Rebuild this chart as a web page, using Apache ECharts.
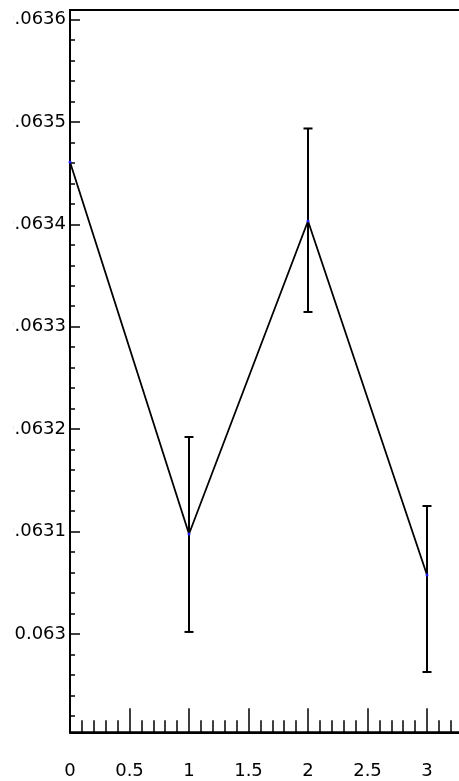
<!DOCTYPE html>
<html>
<head>
<meta charset="utf-8">
<script src="https://cdn.jsdelivr.net/npm/echarts@6/dist/echarts.min.js"></script>
<style>
  html, body { margin: 0; padding: 0; background: #ffffff; overflow: hidden; width: 459px; height: 781px; }
  #chart { width: 487px; height: 781px; }
</style>
</head>
<body>
<div id="chart"></div>
<script>
// Data
const xValues = [0, 1, 2, 3];
const yValues = [0.0634608, 0.0630976, 0.0634032, 0.0630575];
const errLow  = [null, 0.0630019, 0.0633144, 0.0629628];
const errHigh = [null, 0.0631923, 0.0634936, 0.0631249];

const xMin = 0, xMax = 3.5, xStep = 0.5;
const yMin = 0.0629039, yMax = 0.0636093, yStep = 0.0001;

const pointData = xValues.map((x, i) => [x, yValues[i]]);
const errData = xValues.map((x, i) => [x, errLow[i], errHigh[i]]).filter(d => d[1] !== null);

const FONT = 'DejaVu Sans';
const chart = echarts.init(document.getElementById('chart'), null, { renderer: 'canvas' });

chart.setOption({
  animation: false,
  backgroundColor: '#ffffff',
  grid: {
    left: 70, top: 10, right: 0.5, bottom: 48.7,
    show: true, borderColor: '#000', borderWidth: 2, backgroundColor: 'transparent',
    containLabel: false
  },
  // the reference clips its tick labels a little inside the left edge
  graphic: [{
    type: 'rect', left: 0, top: 0, z: 100, silent: true,
    shape: { width: 13.6, height: 781 },
    style: { fill: '#ffffff' }
  }],
  xAxis: {
    type: 'value',
    min: xMin, max: xMax, interval: xStep,
    axisLine: { show: true, lineStyle: { color: '#000', width: 2 } },
    axisTick: { show: true, inside: true, length: 24, lineStyle: { color: '#000', width: 1.5 } },
    minorTick: { show: true, splitNumber: 5, length: 12, lineStyle: { color: '#000', width: 1.5 } },
    axisLabel: { show: true, margin: 30, color: '#000', fontFamily: FONT, fontSize: 18, showMaxLabel: false },
    splitLine: { show: false },
    minorSplitLine: { show: false }
  },
  yAxis: {
    type: 'value',
    min: yMin, max: yMax,
    minInterval: yStep, maxInterval: yStep, splitNumber: 7,
    axisLine: { show: true, lineStyle: { color: '#000', width: 2 } },
    axisTick: { show: true, inside: true, length: 10, lineStyle: { color: '#000', width: 1.5 } },
    minorTick: { show: true, splitNumber: 5, length: 5, lineStyle: { color: '#000', width: 1.5 } },
    axisLabel: { show: true, margin: 4, color: '#000', fontFamily: FONT, fontSize: 18, showMinLabel: false, showMaxLabel: false },
    splitLine: { show: false },
    minorSplitLine: { show: false }
  },
  series: [
    {
      type: 'line',
      data: pointData,
      symbol: 'circle',
      symbolSize: 3,
      showSymbol: true,
      itemStyle: { color: '#1a1aff' },
      lineStyle: { color: '#000', width: 1.8 },
      z: 3
    },
    {
      type: 'custom',
      data: errData,
      encode: { x: 0, y: [1, 2] },
      renderItem: function (params, api) {
        const x = api.value(0);
        const lo = api.coord([x, api.value(1)]);
        const hi = api.coord([x, api.value(2)]);
        const hw = 4.5;
        const style = { stroke: '#000', lineWidth: 2 };
        return {
          type: 'group',
          children: [
            { type: 'line', shape: { x1: lo[0], y1: lo[1], x2: hi[0], y2: hi[1] }, style: style },
            { type: 'line', shape: { x1: lo[0] - hw, y1: lo[1], x2: lo[0] + hw, y2: lo[1] }, style: style },
            { type: 'line', shape: { x1: hi[0] - hw, y1: hi[1], x2: hi[0] + hw, y2: hi[1] }, style: style }
          ]
        };
      },
      z: 2
    }
  ]
});
</script>
</body>
</html>
